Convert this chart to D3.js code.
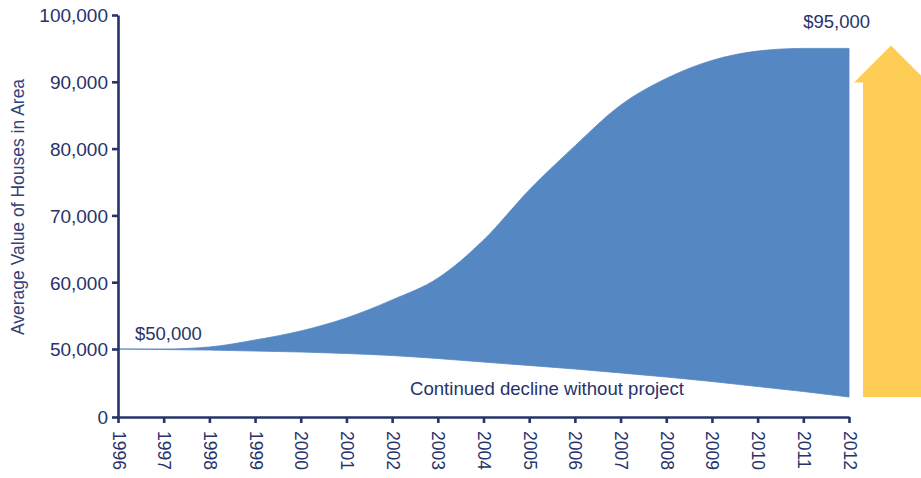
<!DOCTYPE html>
<html>
<head>
<meta charset="utf-8">
<script src="https://cdn.jsdelivr.net/npm/d3@7"></script>
<style>
  html, body { margin: 0; padding: 0; background: #fff; }
  svg { display: block; font-family: "Liberation Sans", Arial, Helvetica, sans-serif; }
</style>
</head>
<body>
<svg id="chart" width="921" height="478"></svg>
<script>
// Years on the horizontal axis
const years = [1996, 1997, 1998, 1999, 2000, 2001, 2002, 2003, 2004,
               2005, 2006, 2007, 2008, 2009, 2010, 2011, 2012];

// Average house value with the project
const withProject = [50000, 50000, 50300, 51350, 52700, 54650, 57350, 60600, 66300,
                     73800, 80400, 86500, 90500, 93200, 94600, 95000, 95000];

// Average house value without the project (continued decline)
const withoutProject = [50000, 49600, 49200, 48500, 47800, 46700, 45200, 43000, 40400,
                        37900, 35300, 32400, 29400, 26100, 22400, 18750, 14700];

// Value-axis tick labels (axis is broken between 0 and 50,000)
const yTicks = [0, 50000, 60000, 70000, 80000, 90000, 100000];

const startLabel = "$50,000";
const endLabel = "$95,000";
const declineLabel = "Continued decline without project";
const yTitle = "Average Value of Houses in Area";

const navy = "#27336a";
const blue = "#5587c3";
const gold = "#fecd55";

const svg = d3.select("#chart");

const x = d3.scaleLinear().domain([1996, 2012]).range([118, 849]);
// Piecewise scale: the 0–50,000 span is compressed to one tick interval
const y = d3.scaleLinear().domain([0, 50000, 100000]).range([417, 349, 15]);

const rows = years.map((yr, i) => ({ year: yr, hi: withProject[i], lo: withoutProject[i] }));

// Gap between the two scenarios
const area = d3.area()
  .x(d => x(d.year))
  .y0(d => y(d.lo))
  .y1(d => y(d.hi))
  .curve(d3.curveMonotoneX);

svg.append("path")
  .datum(rows)
  .attr("d", area)
  .attr("fill", blue)
  .attr("stroke", blue)
  .attr("stroke-width", 0.8);

// Upward arrow beside the final year
const last = rows[rows.length - 1];
const ax0 = x(2012) + 14, ax1 = 921, headL = x(2012) + 5, tipX = x(2012) + 42;
const bottomY = y(last.lo), tipY = y(last.hi) - 3, headY = tipY + 37;
svg.append("path")
  .attr("d", `M${ax0},${bottomY} L${ax0},${headY} L${headL},${headY} L${tipX},${tipY} L${tipX + (tipX - headL)},${headY} L${ax1},${headY} L${ax1},${bottomY} Z`)
  .attr("fill", gold);

// Axes
const yAxis = d3.axisLeft(y)
  .tickValues(yTicks)
  .tickFormat(d3.format(","))
  .tickSize(6)
  .tickSizeOuter(0)
  .tickPadding(4);

const gy = svg.append("g").attr("transform", "translate(118,0)").call(yAxis);

const xAxis = d3.axisBottom(x)
  .tickValues(years)
  .tickFormat(d3.format("d"))
  .tickSize(6)
  .tickSizeOuter(0);

const gx = svg.append("g").attr("transform", "translate(0,417)").call(xAxis);

[gy, gx].forEach(g => {
  g.select(".domain").attr("stroke", navy).attr("stroke-width", 2.6);
  g.selectAll(".tick line").attr("stroke", navy).attr("stroke-width", 2.6);
  g.selectAll(".tick text").attr("fill", navy).attr("font-size", 19)
    .attr("font-family", "'Liberation Sans', Arial, sans-serif");
});

gy.selectAll(".tick text").attr("dy", "0.36em");

gx.selectAll(".tick text")
  .attr("font-size", 17.5)
  .attr("text-anchor", "start")
  .attr("dy", null)
  .attr("y", 0)
  .attr("transform", "translate(-6,14) rotate(90)");

// Axis title
svg.append("text")
  .attr("transform", "translate(24,207) rotate(-90)")
  .attr("text-anchor", "middle")
  .attr("fill", "#34417a")
  .attr("font-size", 17.5)
  .text(yTitle);

// Value annotations
svg.append("text")
  .attr("x", 135).attr("y", 340)
  .attr("fill", navy).attr("font-size", 18.5)
  .text(startLabel);

svg.append("text")
  .attr("x", x(2012) + 21).attr("y", 28)
  .attr("text-anchor", "end")
  .attr("fill", navy).attr("font-size", 18.5)
  .text(endLabel);

svg.append("text")
  .attr("x", 410).attr("y", 395)
  .attr("fill", navy).attr("font-size", 18.6)
  .text(declineLabel);
</script>
</body>
</html>
